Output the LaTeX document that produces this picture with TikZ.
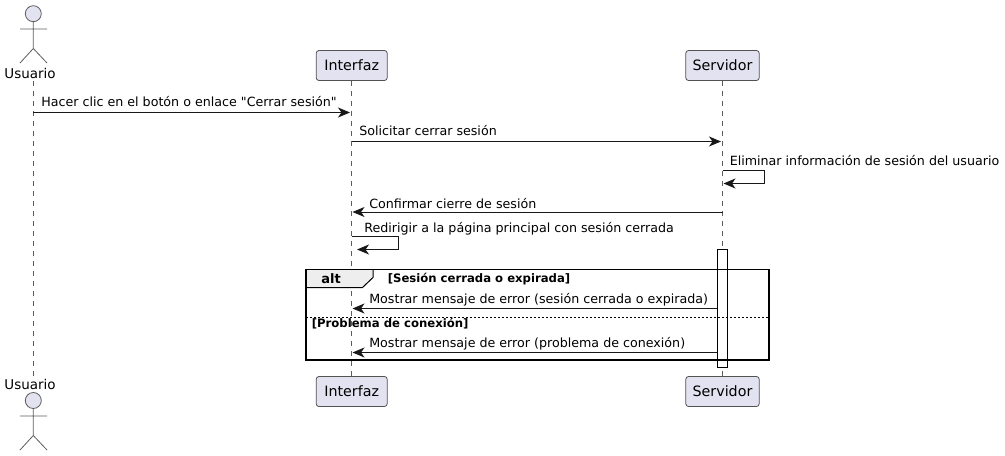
\documentclass[tikz,border=0pt]{standalone}
\usepackage{fontspec}
\setmainfont{DejaVu Sans}
\newfontfamily\straightq{DejaVu Sans}
\usetikzlibrary{arrows.meta}
\definecolor{partfill}{HTML}{E2E2F0}
\definecolor{ink}{HTML}{181818}
\definecolor{tabfill}{HTML}{EEEEEE}
\tikzset{
  partbox/.style={draw=ink!75,fill=partfill,line width=0.6pt,rounded corners=2pt,minimum height=22.5pt,inner sep=0pt,font=\fontsize{10.7}{12}\selectfont,text=black},
  lifeline/.style={draw=ink!70,line width=0.6pt,dash pattern=on 3.75pt off 3.75pt},
  msg/.style={draw=ink,line width=0.75pt,-{Stealth[length=9pt,width=7.5pt,inset=2.6pt]}},
  msgtext/.style={anchor=base west,inner sep=0pt,font=\fontsize{9.5}{12}\selectfont,text=black},
  actorline/.style={draw=ink!70,line width=0.6pt},
  actorhead/.style={circle,draw=ink!70,fill=partfill,line width=0.6pt,minimum size=12pt,inner sep=0pt},
  actorname/.style={inner sep=0pt,font=\fontsize{10.1}{12}\selectfont,text=black},
  frameline/.style={draw=black,line width=1.1pt},
  guardtext/.style={anchor=base west,inner sep=0pt,font=\fontsize{8.75}{10}\selectfont\bfseries,text=black},
  alttext/.style={inner sep=0pt,font=\fontsize{9.75}{12}\selectfont\bfseries,text=black},
  activation/.style={draw=black,fill=white,line width=0.75pt}
}
\begin{document}
\begin{tikzpicture}[x=0.75pt,y=-0.75pt]
\useasboundingbox (0,0) rectangle (1005,456);
% participants
\node[actorhead] (uhead) at (33.3,13.7) {};
\node[actorname] (uname) at (30,73.5) {Usuario};
\node[actorname] (unameb) at (30,384.5) {Usuario};
\node[actorhead] (uheadb) at (33.3,400.5) {};
\node[partbox,minimum width=53.2pt] (ia) at (351.7,65.5) {Interfaz};
\node[partbox,minimum width=55pt] (sa) at (722.5,65.5) {Servidor};
\node[partbox,minimum width=53.2pt] (ib) at (351.7,391.5) {Interfaz};
\node[partbox,minimum width=55pt] (sb) at (722.5,391.5) {Servidor};
% actor figures
\coordinate (uh) at (33.3,48.5);
\coordinate (uarmL) at (20,29);
\coordinate (uarmR) at (47,29);
\coordinate (ulegL) at (20,63);
\coordinate (ulegR) at (47,63);
\draw[actorline] (uhead.south) -- (uh) (uarmL) -- (uarmR) (ulegL) -- (uh) -- (ulegR);
\coordinate (vh) at (33.3,435.5);
\coordinate (varmL) at (20,416);
\coordinate (varmR) at (47,416);
\coordinate (vlegL) at (20,450);
\coordinate (vlegR) at (47,450);
\draw[actorline] (uheadb.south) -- (vh) (varmL) -- (varmR) (vlegL) -- (vh) -- (vlegR);
% lifelines
\coordinate (ltop) at (33.3,81);
\coordinate (lbot) at (33.3,376);
\draw[lifeline] (ltop) -- (lbot);
\draw[lifeline] (ia.south) -- (ib.north);
\draw[lifeline] (sa.south) -- (sb.north);
% activation
\node[activation,minimum width=7.5pt,minimum height=88.5pt,inner sep=0pt] (act) at (722,308.2) {};
% messages
\coordinate (m1a) at (33.3,112.5); \coordinate (m1b) at (350,112.5);
\draw[msg] (m1a) -- (m1b);
\node[msgtext] (t1) at (41,107) {Hacer clic en el botón o enlace {\straightq"}Cerrar sesión{\straightq"}};
\coordinate (m2a) at (351.7,141.5); \coordinate (m2b) at (721,141.5);
\draw[msg] (m2a) -- (m2b);
\node[msgtext] (t2) at (359,136) {Solicitar cerrar sesión};
\coordinate (m3a) at (722.5,170.5); \coordinate (m3c) at (764.5,170.5); \coordinate (m3d) at (764.5,183.5); \coordinate (m3b) at (723.5,183.5);
\draw[msg] (m3a) -- (m3c) -- (m3d) -- (m3b);
\node[msgtext] (t3) at (729.5,166) {Eliminar información de sesión del usuario};
\coordinate (m4a) at (722.5,212); \coordinate (m4b) at (352.5,212);
\draw[msg] (m4a) -- (m4b);
\node[msgtext] (t4) at (369,208) {Confirmar cierre de sesión};
\coordinate (m5a) at (351.7,236.5); \coordinate (m5c) at (398.5,236.5); \coordinate (m5d) at (398.5,249.5); \coordinate (m5b) at (357,249.5);
\draw[msg] (m5a) -- (m5c) -- (m5d) -- (m5b);
\node[msgtext] (t5) at (364,232) {Redirigir a la página principal con sesión cerrada};
% alt frame
\coordinate (fa) at (306,269.5); \coordinate (fb) at (769,360);
\coordinate (tab1) at (373,269.5); \coordinate (tab2) at (373,277.5); \coordinate (tab3) at (362.5,287.5); \coordinate (tab4) at (306,287.5);
\fill[tabfill] (fa) -- (tab1) -- (tab2) -- (tab3) -- (tab4) -- cycle;
\draw[draw=black,line width=0.75pt] (tab1) -- (tab2) -- (tab3) -- (tab4);
\draw[frameline] (fa) rectangle (fb);
\node[alttext] (alt) at (331,278.5) {alt};
\node[guardtext] (g1) at (387.5,282) {[Sesión cerrada o expirada]};
\coordinate (ea) at (306,317); \coordinate (eb) at (769,317);
\draw[draw=black,line width=0.6pt,dash pattern=on 1.5pt off 1.5pt] (ea) -- (eb);
\node[guardtext] (g2) at (311.5,327) {[Problema de conexión]};
\coordinate (m6a) at (717,308.5); \coordinate (m6b) at (352.5,308.5);
\draw[msg] (m6a) -- (m6b);
\node[msgtext] (t6) at (369,303) {Mostrar mensaje de error (sesión cerrada o expirada)};
\coordinate (m7a) at (717,352.5); \coordinate (m7b) at (352.5,352.5);
\draw[msg] (m7a) -- (m7b);
\node[msgtext] (t7) at (369,347) {Mostrar mensaje de error (problema de conexión)};
\end{tikzpicture}
\end{document}
